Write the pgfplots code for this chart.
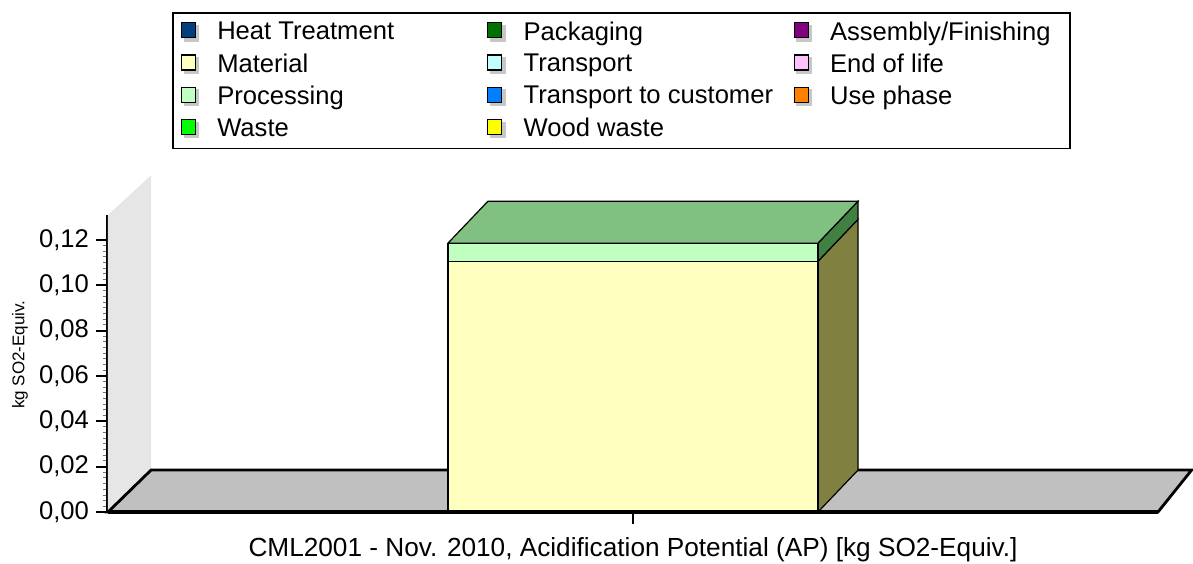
\documentclass[border=0pt]{standalone}
\usepackage{fontspec}
\setmainfont{Liberation Sans}
\usepackage{pgfplots}
\pgfplotsset{compat=1.18}

\definecolor{heat}{HTML}{00407F}
\definecolor{pack}{HTML}{007000}
\definecolor{assem}{HTML}{800080}
\definecolor{matc}{HTML}{FFFFC0}
\definecolor{trans}{HTML}{C0FFFF}
\definecolor{eol}{HTML}{FFC0FF}
\definecolor{procc}{HTML}{C0FFC0}
\definecolor{tcust}{HTML}{0080FF}
\definecolor{usep}{HTML}{FF8000}
\definecolor{waste}{HTML}{00FF00}
\definecolor{wood}{HTML}{FFFF00}
\definecolor{floorc}{HTML}{C0C0C0}
\definecolor{wallc}{HTML}{E6E6E6}
\definecolor{topc}{HTML}{80C080}
\definecolor{sidemat}{HTML}{808040}
\definecolor{sideproc}{HTML}{408040}

\newcommand{\lf}{\fontsize{12.8}{15}\selectfont}
\newcommand{\lgent}[1]{\makebox[135pt][l]{#1}}
\newcommand{\lgend}[1]{\makebox[116pt][l]{#1}}

\begin{document}
\begin{tikzpicture}
\begin{axis}[
    scale only axis,
    width=525pt, height=148.5pt,
    xmin=0, xmax=10,
    ymin=0, ymax=0.131,
    clip=false,
    axis x line=bottom,
    axis y line=left,
    axis line style={-},
    x axis line style={line width=2pt},
    y axis line style={line width=1.8pt},
    xtick={5},
    xticklabels={CML2001 - Nov. 2010{,} Acidification Potential (AP) [kg SO2-Equiv.]},
    xticklabel style={yshift=-3pt, font=\fontsize{13.1}{15}\selectfont},
    ytick={0,0.02,0.04,0.06,0.08,0.10,0.12},
    minor y tick num=7,
    tick align=outside,
    major tick length=6pt,
    minor tick length=2.5pt,
    major tick style={line width=1.1pt, black},
    minor tick style={line width=0.5pt, black!55},
    yticklabel style={font=\lf, /pgf/number format/.cd, fixed, fixed zerofill, precision=2, use comma, assume math mode=true},
    ylabel={kg SO2-Equiv.},
    every axis y label/.style={at={(axis description cs:-0.0838,0.53)}, rotate=90, anchor=center, font=\fontsize{8.5}{10}\selectfont},
    legend columns=3,
    legend cell align=left,
    legend style={at={(0.061,1.6835)}, anchor=north west, draw=black, line width=0.8pt,
        fill=white, inner xsep=4pt, inner ysep=3pt, row sep=2.5pt, font=\lf,
        nodes={inner xsep=0pt, inner ysep=1.4pt},
        /tikz/every odd column/.append style={column sep=9pt},
        /tikz/every even column/.append style={column sep=0pt}},
    leg/.style={legend image code/.code={
        \fill[black!22] (1.5pt,-4.25pt) rectangle (8.5pt,3.25pt);
        \draw[##1, draw=black, line width=0.6pt] (0pt,-2.75pt) rectangle (7pt,4.75pt);}},
]
% back wall and floor
\addplot[forget plot, fill=wallc, draw=none] coordinates {(0,0) (0.41,0.0185) (0.41,0.1485) (0,0.131)} -- cycle;
\addplot[forget plot, fill=floorc, draw=black, line width=1.4pt] coordinates {(0,0) (10,0) (10.32,0.0185) (0.41,0.0185)} -- cycle;
% bar sides and top
\addplot[forget plot, fill=sidemat, draw=black, line width=0.6pt] coordinates {(6.762,0) (6.762,0.1106) (7.143,0.1291) (7.143,0.0185)} -- cycle;
\addplot[forget plot, fill=sideproc, draw=black, line width=0.6pt] coordinates {(6.762,0.1106) (6.762,0.1186) (7.143,0.1371) (7.143,0.1291)} -- cycle;
\addplot[forget plot, fill=topc, draw=black, line width=0.6pt] coordinates {(3.238,0.1186) (6.762,0.1186) (7.143,0.1371) (3.619,0.1371)} -- cycle;
% front faces: Processing stacked on Material
\addplot[forget plot, ybar, bar width=3.524, fill=procc, draw=black, line width=0.6pt] coordinates {(5,0.1186)};
\addplot[forget plot, ybar, bar width=3.524, fill=matc, draw=black, line width=0.6pt] coordinates {(5,0.1106)};
\draw[line width=2pt] (axis cs:0,0) -- (axis cs:10,0);

\addlegendimage{leg, fill=heat}\addlegendentry{\lgent{Heat Treatment}}
\addlegendimage{leg, fill=pack}\addlegendentry{\lgent{Packaging}}
\addlegendimage{leg, fill=assem}\addlegendentry{\lgend{Assembly/Finishing}}
\addlegendimage{leg, fill=matc}\addlegendentry{\lgent{Material}}
\addlegendimage{leg, fill=trans}\addlegendentry{\lgent{Transport}}
\addlegendimage{leg, fill=eol}\addlegendentry{\lgend{End of life}}
\addlegendimage{leg, fill=procc}\addlegendentry{\lgent{Processing}}
\addlegendimage{leg, fill=tcust}\addlegendentry{\lgent{Transport to customer}}
\addlegendimage{leg, fill=usep}\addlegendentry{\lgend{Use phase}}
\addlegendimage{leg, fill=waste}\addlegendentry{\lgent{Waste}}
\addlegendimage{leg, fill=wood}\addlegendentry{\lgent{Wood waste}}

\coordinate (O) at (axis cs:0,0);
\end{axis}
\pgfresetboundingbox
\path[use as bounding box] (O) ++(-54pt,-25.5pt) rectangle ++(596.5pt,281.5pt);
\end{tikzpicture}
\end{document}
